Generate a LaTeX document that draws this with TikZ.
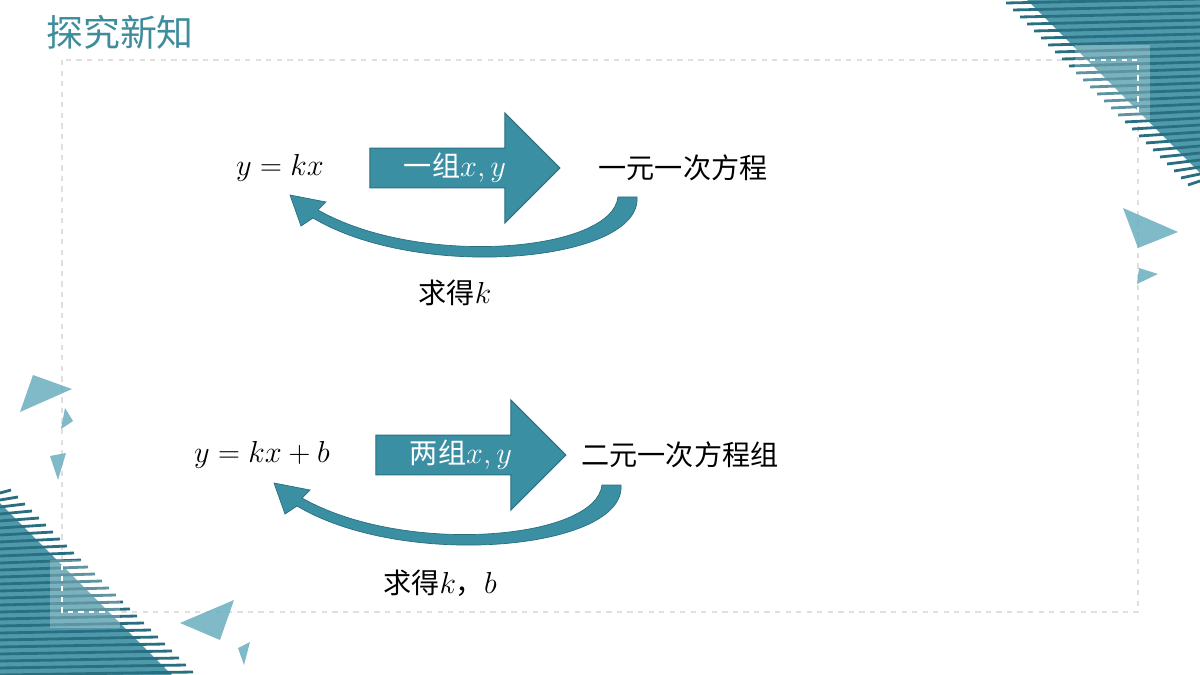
\documentclass[tikz,border=0pt]{standalone}
\usepackage{fontspec}
\newfontfamily\cjk{Noto Sans CJK SC}
\usetikzlibrary{shapes.arrows}
\definecolor{teal1}{HTML}{3A8FA3}
\definecolor{teal2}{HTML}{2A6F80}
\definecolor{teal3}{HTML}{6AAEBF}
\definecolor{titlec}{HTML}{3E8C9C}
\begin{document}
\begin{tikzpicture}[x=0.02cm,y=-0.02cm,
  blockarrow/.style={single arrow,fill=teal1,draw=teal2,line width=0.6pt,
    minimum height=3.8cm,minimum width=2.2cm,single arrow head extend=0.54cm,
    inner sep=0pt,text=white,font=\cjk\fontsize{16pt}{18pt}\selectfont},
  mathtext/.style={font=\fontsize{16pt}{18pt}\selectfont},
  cntext/.style={font=\cjk\fontsize{16pt}{18pt}\selectfont},
  stripe/.style={teal2,line width=1.6pt},
  deco/.style={fill=teal3,opacity=0.85}]
\useasboundingbox (0,0) rectangle (1200,675);
% title and frame
\node[text=titlec,font=\cjk\fontsize{21pt}{24pt}\selectfont,anchor=west] (title) at (40,32) {探究新知};
\draw[gray!25,dashed,line width=0.6pt] (62,60) rectangle (1138,612);
% corner decorations
\fill[teal1!90] (1027,0) -- (1200,0) -- (1200,173) -- cycle;
\foreach \y in {3,10,...,185}
  \draw[stripe] ({1027+\y-24},\y) -- (1200,\y-4);
\fill[white,opacity=0.25] (1075,45) rectangle (1150,120);
\fill[teal1!90] (0,503) -- (0,675) -- (172,675) -- cycle;
\foreach \y in {490,497,...,675}
  \draw[stripe] (0,\y+3) -- ({\y-503+24},\y);
\fill[white,opacity=0.25] (50,560) rectangle (120,628);
\draw[white,dashed,line width=0.6pt] (1090,60) -- (1138,60) -- (1138,120);
\draw[white,dashed,line width=0.6pt] (62,565) -- (62,612) -- (120,612);
\fill[deco] (1123,208) -- (1178,232) -- (1138,248) -- cycle;
\fill[deco] (1139,268) -- (1158,274) -- (1137,284) -- cycle;
\fill[deco] (33,375) -- (72,389) -- (20,412) -- cycle;
\fill[deco] (65,408) -- (73,421) -- (61,429) -- cycle;
\fill[deco] (50,456) -- (66,453) -- (58,480) -- cycle;
\fill[deco] (180,623) -- (234,600) -- (220,640) -- cycle;
\fill[deco] (238,648) -- (250,642) -- (244,665) -- cycle;
% top row
\node[mathtext] (lin) at (280,168) {$y=kx$};
\node[blockarrow] (one) at (455,168) {一组$x,y$};
\node[cntext] (eq1) at (683,168) {一元一次方程};
\fill[teal1,draw=teal2,line width=0.4pt] (637,197) .. controls (642,262) and (420,282) .. (313,218)
  -- (301,226) -- (290,195) -- (326,202) -- (318,210)
  .. controls (420,268) and (612,252) .. (618,197) -- cycle;
\node[cntext] (getk) at (455,293) {求得$k$};
% bottom row
\node[mathtext] (aff) at (262,455) {$y=kx+b$};
\node[blockarrow] (two) at (461,455) {两组$x,y$};
\node[cntext] (eq2) at (680,455) {二元一次方程组};
\begin{scope}[shift={(-16,288)}]
\fill[teal1,draw=teal2,line width=0.4pt] (637,197) .. controls (642,262) and (420,282) .. (313,218)
  -- (301,226) -- (290,195) -- (326,202) -- (318,210)
  .. controls (420,268) and (612,252) .. (618,197) -- cycle;
\end{scope}
\node[cntext] (getkb) at (440,583) {求得$k$，$b$};
\end{tikzpicture}
\end{document}
